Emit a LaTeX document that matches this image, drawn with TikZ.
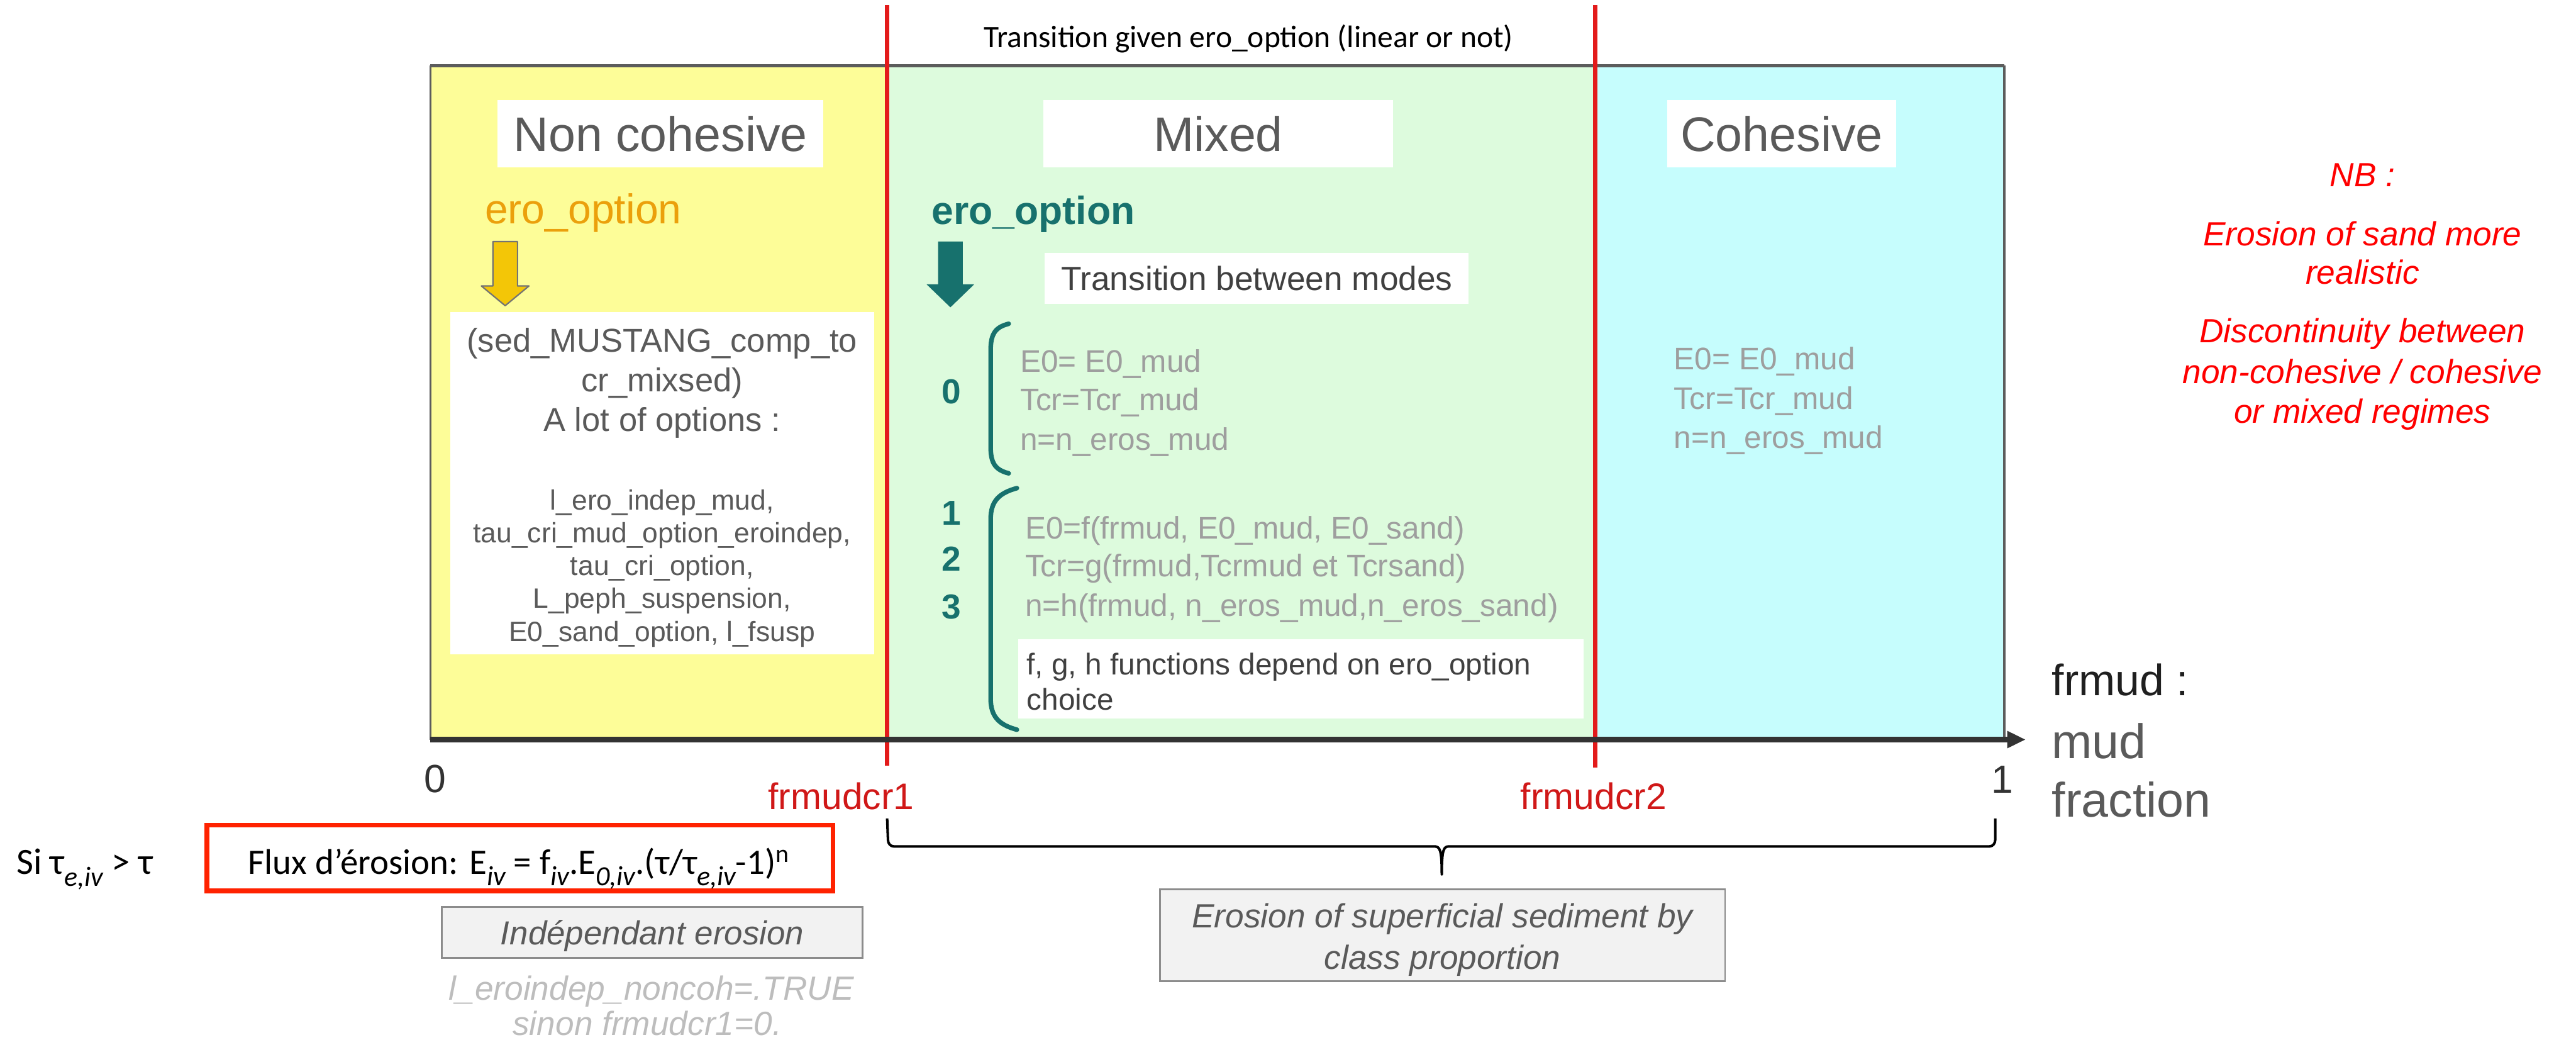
\documentclass[tikz,border=0pt]{standalone}
\usepackage{fontspec}
\setmainfont{Liberation Sans}
\newfontfamily\calib{Carlito}
\usetikzlibrary{arrows.meta}

\definecolor{ylw}{HTML}{FDFD98}
\definecolor{grn}{HTML}{DDFBDD}
\definecolor{cyn}{HTML}{C6FDFD}
\definecolor{txtgray}{HTML}{5A5A5A}
\definecolor{darktxt}{HTML}{404040}
\definecolor{codegray}{HTML}{9E9E9E}
\definecolor{palegray}{HTML}{BDBDBD}
\definecolor{tealc}{HTML}{17716D}
\definecolor{orng}{HTML}{EBA00C}
\definecolor{crred}{HTML}{D01818}
\definecolor{lnred}{HTML}{E31B1B}
\definecolor{nbred}{HTML}{FF0000}
\definecolor{boxred}{HTML}{FF2200}
\definecolor{boxfill}{HTML}{F2F2F2}
\definecolor{boxedge}{HTML}{8C8C8C}
\definecolor{frame}{HTML}{5C5C5C}
\definecolor{axgray}{HTML}{333333}

\newcommand\fsz[1]{\fontsize{#1}{#1}\selectfont}
% lowered italic index used in the erosion law
\newcommand\sbx[1]{\raisebox{-0.32em}{\fontsize{12}{12}\selectfont\itshape #1}}

\tikzset{
  % font size in pt, with the text box cut to the cap height so that
  % the node centre sits in the middle of the capitals
  fs/.code={%
    \pgfmathsetmacro\capht{0.72*#1}%
    \edef\fstmp{\noexpand\tikzset{font=\noexpand\fsz{#1}, text height=\capht pt, text depth=0pt}}%
    \fstmp},
  lbl/.style={inner sep=0pt, outer sep=0pt},
  regtitle/.style={fill=white, inner sep=0pt, text=txtgray, fs=21, minimum height=1.025cm},
  codeline/.style={lbl, anchor=west, text=codegray, fs=13.5},
  optbig/.style={lbl, text=txtgray, fs=14.3},
  optsmall/.style={lbl, text=txtgray, fs=12.1},
  nbline/.style={lbl, text=nbred, fs=14.5, font=\itshape\fsz{14.5}},
  digit/.style={lbl, text=tealc, fs=15, font=\bfseries\fsz{15}},
  crlabel/.style={lbl, text=crred, fs=16},
  axislbl/.style={lbl, text=axgray, fs=17},
  mudlbl/.style={lbl, anchor=west, text=txtgray, fs=21},
  tealbrace/.style={draw=tealc, line width=2pt, line cap=round},
  noteline/.style={lbl, text=txtgray, fs=14.5, font=\itshape\fsz{14.5}},
  paleline/.style={lbl, text=palegray, fs=14.5, font=\itshape\fsz{14.5}},
  graybox/.style={fill=boxfill, draw=boxedge, line width=0.8pt, inner sep=0pt},
  crline/.style={draw=lnred, line width=1.8pt},
  whitebox/.style={fill=white, inner sep=0pt},
}

\begin{document}
\begin{tikzpicture}[x=0.025cm, y=-0.025cm]
\useasboundingbox (0,0) rectangle (1568,632.5);

% frame corners and axis ends
\coordinate (tl) at (262,40);
\coordinate (tr) at (1220,40);
\coordinate (bl) at (262,450);
\coordinate (br) at (1220,450);
\coordinate (a1) at (1233,450);

% the three regimes
\fill[ylw] (262,40) rectangle (540,450);
\fill[grn] (540,40) rectangle (971,450);
\fill[cyn] (971,40) rectangle (1220,450);

\draw[frame, line width=1pt] (bl) -- (tl);
\draw[frame, line width=1pt] (tr) -- (br);
\draw[frame, line width=1.6pt] (tl) -- (tr);

% critical mud fractions
\coordinate (c1t) at (540,3);
\coordinate (c1b) at (540,466);
\coordinate (c2t) at (971,3);
\coordinate (c2b) at (971,467);
\draw[crline] (c1t) -- (c1b);
\draw[crline] (c2t) -- (c2b);

% mud fraction axis
\draw[axgray, line width=2.2pt, -{Triangle[length=8pt,width=7pt]}] (bl) -- (a1);

% title
\node[lbl, fs=13.5, font=\calib\fsz{13.5}] (title) at (760,22)
  {Transition given ero\_option (linear or not)};

% regime headings
\node[regtitle, minimum width=4.95cm]  (hnc)  at (402,81.5)  {Non cohesive};
\node[regtitle, minimum width=5.325cm] (hmx)  at (741.5,81.5) {Mixed};
\node[regtitle, minimum width=3.475cm] (hco)  at (1084.5,81.5) {Cohesive};

% non cohesive column
\node[lbl, text=orng, fs=18] (eroA) at (355,127) {ero\_option};
\draw[fill=orng!60!yellow, draw=black!55, line width=0.6pt, line join=round]
  (300,147) -- (315,147) -- (315,174) -- (322,174) -- (307.5,186) -- (293,174) -- (300,174) -- cycle;
\node[whitebox, minimum width=6.45cm, minimum height=5.2cm] (optbox) at (403,294) {};
\node[optbig] (o1) at (403,207) {(sed\_MUSTANG\_comp\_to};
\node[optbig] (o2) at (403,231) {cr\_mixsed)};
\node[optbig] (o3) at (403,255) {A lot of options :};
\node[optsmall] (o4) at (403,304) {l\_ero\_indep\_mud,};
\node[optsmall] (o5) at (403,324) {tau\_cri\_mud\_option\_eroindep,};
\node[optsmall] (o6) at (403,344) {tau\_cri\_option,};
\node[optsmall] (o7) at (403,364) {L\_peph\_suspension,};
\node[optsmall] (o8) at (403,384) {E0\_sand\_option, l\_fsusp};

% mixed column
\node[lbl, text=tealc, fs=17, font=\bfseries\fsz{17}] (eroB) at (629,128) {ero\_option};
\fill[tealc] (571,147) -- (586,147) -- (586,173) -- (593,173) -- (578.5,187) -- (564,173) -- (571,173) -- cycle;
\node[whitebox, minimum width=6.45cm, minimum height=0.775cm, text=darktxt, fs=14.5]
  (trans) at (765,169.5) {Transition between modes};

\draw[tealbrace] (614,197) .. controls (606,199) and (603,203) .. (603,213) -- (603,272)
  .. controls (603,282) and (606,286) .. (614,288);
\draw[tealbrace] (619,297) .. controls (608,300) and (603,305) .. (603,316) -- (603,425)
  .. controls (603,436) and (608,441) .. (619,444);

\node[digit] (d0) at (579,238) {0};
\node[digit] (d1) at (579,312) {1};
\node[digit] (d2) at (579,340) {2};
\node[digit] (d3) at (579,369) {3};

\node[codeline] (m01) at (621,219.6) {E0= E0\_mud};
\node[codeline] (m02) at (621,243) {Tcr=Tcr\_mud};
\node[codeline] (m03) at (621,267) {n=n\_eros\_mud};

\node[codeline] (m11) at (624,321) {E0=f(frmud, E0\_mud, E0\_sand)};
\node[codeline] (m12) at (624,344) {Tcr=g(frmud,Tcrmud et Tcrsand)};
\node[codeline] (m13) at (624,368) {n=h(frmud, n\_eros\_mud,n\_eros\_sand)};

\node[whitebox, minimum width=8.6cm, minimum height=1.2cm] (fgh) at (792,413) {};
\node[lbl, anchor=west, text=darktxt, fs=13] (fgh1) at (625,404) {f, g, h functions depend on ero\_option};
\node[lbl, anchor=west, text=darktxt, fs=13] (fgh2) at (625,425.5) {choice};

% cohesive column
\node[codeline] (c01) at (1019,218) {E0= E0\_mud};
\node[codeline] (c02) at (1019,242) {Tcr=Tcr\_mud};
\node[codeline] (c03) at (1019,266) {n=n\_eros\_mud};

% remarks
\node[nbline] (nb0) at (1438,106) {NB :};
\node[nbline] (nb1) at (1438,142) {Erosion of sand more};
\node[nbline] (nb2) at (1438,165.5) {realistic};
\node[nbline] (nb3) at (1438,201) {Discontinuity between};
\node[nbline] (nb4) at (1438,226) {non-cohesive / cohesive};
\node[nbline] (nb5) at (1438,250) {or mixed regimes};

% axis labels
\node[axislbl] (x0) at (265,473.5) {0};
\node[axislbl] (x1) at (1219,474) {1};
\node[crlabel] (cr1) at (512,484.5) {frmudcr1};
\node[crlabel] (cr2) at (970,484.5) {frmudcr2};
\node[lbl, anchor=west, text=black!88, fs=19] (fm) at (1249,413.5) {frmud :};
\node[mudlbl] (fm2) at (1249,451) {mud};
\node[mudlbl] (fm3) at (1249,486.5) {fraction};

% erosion law
\node[lbl, anchor=west, fs=16, font=\calib\fsz{16}] (si) at (10,524) {Si τ\sbx{e,iv} > τ};
\node[draw=boxred, line width=2pt, minimum width=9.525cm, minimum height=1cm, inner sep=0pt,
  font=\calib\fsz{15.5}] (flux) at (316.5,522) {};
\node[lbl, fs=15.5, font=\calib\fsz{15.5}] (fluxtxt) at (316,524)
  {Flux d’érosion: E\sbx{iv} = f\sbx{iv}.E\sbx{0,iv}.(τ/τ\sbx{e,iv}-1)\textsuperscript{n}};

% independent erosion
\node[graybox, minimum width=6.4cm, minimum height=0.775cm, text=txtgray,
  fs=14.4, font=\itshape\fsz{14.4}] (indep) at (397,567.5) {Indépendant erosion};
\node[paleline] (p1) at (396.5,601) {l\_eroindep\_noncoh=.TRUE};
\node[paleline] (p2) at (394,622.5) {sinon frmudcr1=0.};

% brace over the mixed and cohesive range
\coordinate (bL) at (540,498);
\coordinate (bR) at (1214.5,498);
\coordinate (bT) at (877.6,532);
\draw[black, line width=1.1pt, line join=round] (bL) -- (540.5,511) to[out=-90,in=180] (544,515) -- (873,515)
  .. controls (876.5,515) and (877.6,517) .. (bT)
  .. controls (877.6,517) and (878.7,515) .. (882,515) -- (1211,515)
  to[out=0,in=-90] (1214.5,511) -- (bR);

\node[graybox, minimum width=8.6cm, minimum height=1.4cm] (supbox) at (878,569) {};
\node[noteline] (s1) at (878,557) {Erosion of superficial sediment by};
\node[noteline] (s2) at (878,582.5) {class proportion};
\end{tikzpicture}
\end{document}
